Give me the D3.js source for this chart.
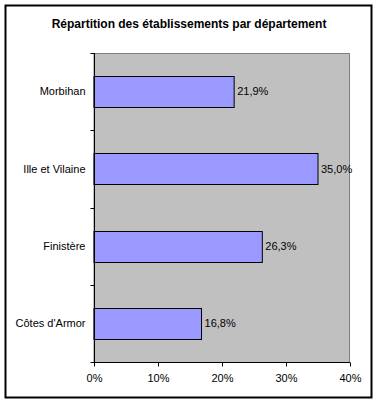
<!DOCTYPE html>
<html>
<head>
<meta charset="utf-8">
<script src="https://cdn.jsdelivr.net/npm/d3@7"></script>
<style>
  body { margin: 0; background: #fff; }
  text { font-family: Arial, "Liberation Sans", sans-serif; fill: #000; }
</style>
</head>
<body>
<svg width="378" height="404"></svg>
<script>
// data
const categories = ['Morbihan', 'Ille et Vilaine', 'Finistère', "Côtes d'Armor"];
const values = [21.9, 35.0, 26.3, 16.8];
const xTicks = [0, 10, 20, 30, 40];

const svg = d3.select('svg');

// outer frame
svg.append('rect')
  .attr('x', 5.5).attr('y', 5.5)
  .attr('width', 366).attr('height', 392)
  .attr('fill', '#fff').attr('stroke', '#000').attr('stroke-width', 2);

svg.append('text')
  .attr('x', 189).attr('y', 28)
  .attr('text-anchor', 'middle')
  .style('font-size', '12px').style('font-weight', 'bold')
  .text('Répartition des établissements par département');

const plotL = 94, plotR = 350, plotT = 53, plotB = 362;

const x = d3.scaleLinear().domain([0, 40]).range([plotL, plotR]);
const y = d3.scaleBand().domain(categories).range([plotT, plotB])
  .paddingInner(0.6).paddingOuter(0.3);

// plot area
svg.append('rect')
  .attr('x', plotL).attr('y', plotT + 0.5)
  .attr('width', plotR - plotL - 0.5).attr('height', plotB - plotT)
  .attr('fill', '#c0c0c0').attr('stroke', '#808080');

// bars
svg.selectAll('.bar')
  .data(values)
  .enter().append('rect')
  .attr('class', 'bar')
  .attr('x', x(0))
  .attr('y', (d, i) => Math.round(y(categories[i])) + 0.5)
  .attr('width', d => x(d) - x(0))
  .attr('height', Math.round(y.bandwidth()))
  .attr('fill', '#9999ff')
  .attr('stroke', '#000');

// value labels
svg.selectAll('.val')
  .data(values)
  .enter().append('text')
  .attr('class', 'val')
  .attr('x', d => x(d) + 3)
  .attr('y', (d, i) => y(categories[i]) + y.bandwidth() / 2)
  .attr('dy', '0.35em')
  .style('font-size', '11px')
  .text(d => d.toFixed(1).replace('.', ',') + '%');

// x axis
const xAxis = d3.axisBottom(x)
  .tickValues(xTicks)
  .tickSize(4)
  .tickPadding(8)
  .tickFormat(d => d + '%');

const gx = svg.append('g')
  .attr('transform', 'translate(0,' + (plotB + 0.5) + ')')
  .call(xAxis);
gx.select('.domain').attr('stroke', '#000').attr('d', 'M' + plotL + ',0H' + plotR);
gx.selectAll('line').attr('stroke', '#000');
gx.selectAll('text').style('font-size', '11px').attr('font-family', null);

// y axis: line + ticks at band boundaries
const gy = svg.append('g').attr('transform', 'translate(' + (plotL + 0.5) + ',0)');
gy.append('line')
  .attr('x1', 0).attr('x2', 0)
  .attr('y1', plotT).attr('y2', plotB + 4)
  .attr('stroke', '#000');
const bounds = d3.range(categories.length + 1).map(i => plotT + i * y.step());
gy.selectAll('.tick')
  .data(bounds)
  .enter().append('line')
  .attr('x1', -4).attr('x2', 0)
  .attr('y1', d => Math.round(d) + 0.5).attr('y2', d => Math.round(d) + 0.5)
  .attr('stroke', '#000');
gy.selectAll('.lab')
  .data(categories)
  .enter().append('text')
  .attr('x', -9)
  .attr('y', d => y(d) + y.bandwidth() / 2)
  .attr('dy', '0.35em')
  .attr('text-anchor', 'end')
  .style('font-size', '11px')
  .text(d => d);
</script>
</body>
</html>
